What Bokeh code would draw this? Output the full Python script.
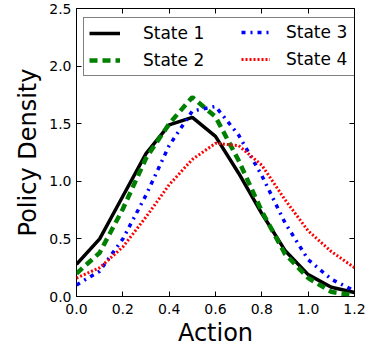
from bokeh.plotting import figure
from bokeh.models import Legend, LegendItem, LinearAxis, Range1d, NumeralTickFormatter, FixedTicker
from bokeh.embed import file_html
from bokeh.resources import INLINE

# ---- data ----
actions = [0.0, 0.1, 0.2, 0.3, 0.4, 0.5, 0.6, 0.7, 0.8, 0.9, 1.0, 1.1, 1.2]
state1 = [0.28, 0.50, 0.87, 1.24, 1.49, 1.555, 1.39, 1.07, 0.72, 0.40, 0.19, 0.08, 0.035]
state2 = [0.20, 0.38, 0.76, 1.20, 1.50, 1.73, 1.56, 1.18, 0.74, 0.37, 0.16, 0.04, 0.01]
state3 = [0.10, 0.22, 0.50, 0.88, 1.31, 1.61, 1.65, 1.40, 1.05, 0.64, 0.32, 0.15, 0.05]
state4 = [0.16, 0.25, 0.43, 0.69, 0.97, 1.19, 1.33, 1.31, 1.14, 0.84, 0.57, 0.39, 0.25]
labels = ["State 1", "State 2", "State 3", "State 4"]
x_ticks = [0.0, 0.2, 0.4, 0.6, 0.8, 1.0, 1.2]
y_ticks = [0.0, 0.5, 1.0, 1.5, 2.0, 2.5]

FONT = "DejaVu Sans"

p = figure(width=367, height=350, output_backend="svg", toolbar_location=None,
           x_range=Range1d(0, 1.2), y_range=Range1d(0, 2.5),
           min_border_left=76, min_border_top=8, min_border_right=13, min_border_bottom=54,
           background_fill_color="white", border_fill_color="white")
p.xgrid.grid_line_color = None
p.ygrid.grid_line_color = None
p.outline_line_color = "black"
p.outline_line_width = 1

def style_axis(ax, ticks, show_labels):
    ax.ticker = FixedTicker(ticks=ticks)
    ax.formatter = NumeralTickFormatter(format="0.0")
    ax.axis_line_color = None
    ax.major_tick_in = 5
    ax.major_tick_out = 0
    ax.minor_tick_in = 0
    ax.minor_tick_out = 0
    ax.major_tick_line_color = "black"
    ax.major_label_text_font = FONT
    if show_labels:
        ax.major_label_text_font_size = "14px"
        ax.major_label_text_color = "black"
    else:
        ax.major_label_text_font_size = "1px"
        ax.major_label_text_color = None
        ax.major_label_standoff = 0

style_axis(p.xaxis[0], x_ticks, True)
style_axis(p.yaxis[0], y_ticks, True)
p.xaxis.major_label_standoff = 7
p.yaxis.major_label_standoff = 5
p.xaxis.axis_label = "Action"
p.yaxis.axis_label = "Policy Density"
for ax in (p.xaxis[0], p.yaxis[0]):
    ax.axis_label_text_font = FONT
    ax.axis_label_text_font_size = "24px"
    ax.axis_label_text_font_style = "normal"
    ax.axis_label_text_color = "black"
p.xaxis.axis_label_standoff = 2
p.yaxis.axis_label_standoff = 4

top_ax = LinearAxis()
style_axis(top_ax, x_ticks, False)
right_ax = LinearAxis()
style_axis(right_ax, y_ticks, False)
p.add_layout(top_ax, "above")
p.add_layout(right_ax, "right")

r1 = p.line(actions, state1, line_color="black", line_width=3.5)
r2 = p.line(actions, state2, line_color="#008000", line_width=4.5, line_dash="8 5")
r3 = p.line(actions, state3, line_color="#0000ff", line_width=3.5, line_dash="4 5 2 5")
r4 = p.line(actions, state4, line_color="#ff0000", line_width=3, line_dash="2 2")

leg_a = Legend(items=[LegendItem(label=labels[0], renderers=[r1]),
                      LegendItem(label=labels[1], renderers=[r2])],
               location=(7, 220), padding=5, spacing=7,
               glyph_width=31, glyph_height=20, label_height=20, label_standoff=23, label_width=206,
               label_text_font=FONT, label_text_font_size="17px", label_text_color="black",
               border_line_color="black", border_line_width=1,
               background_fill_color="white", background_fill_alpha=1.0, margin=0)
leg_b = Legend(items=[LegendItem(label=labels[2], renderers=[r3]),
                      LegendItem(label=labels[3], renderers=[r4])],
               location=(165, 227), padding=5, spacing=7,
               glyph_width=29, glyph_height=20, label_height=20, label_standoff=16,
               label_text_font=FONT, label_text_font_size="17px", label_text_color="black",
               border_line_color=None, background_fill_alpha=0.0, margin=0)
p.add_layout(leg_a)
p.add_layout(leg_b)

open("out.html", "w").write(file_html(p, INLINE))
